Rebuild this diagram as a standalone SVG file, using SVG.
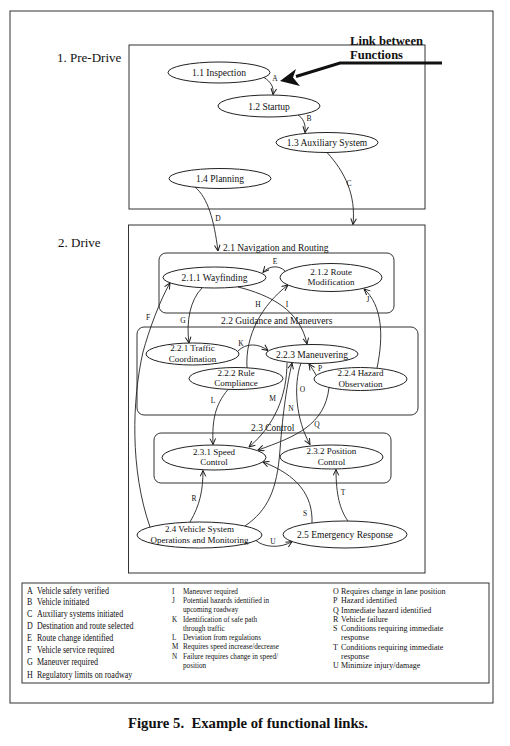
<svg xmlns="http://www.w3.org/2000/svg" width="510" height="746" viewBox="0 0 510 746">
<defs>
<marker id="ah" viewBox="0 0 10 10" refX="9.5" refY="5" markerWidth="7" markerHeight="7" markerUnits="userSpaceOnUse" orient="auto">
<path d="M1,1 L9.5,5 L1,9" fill="none" stroke="#1a1a1a" stroke-width="1.4"/>
</marker>
</defs>
<style>
text{font-family:"Liberation Serif","Times New Roman",serif;fill:#111}
.box{fill:none;stroke:#333;stroke-width:1}
.node ellipse{fill:#fff;stroke:#222;stroke-width:1}
.node text{font-size:9.5px;text-anchor:middle}
.node text.two{font-size:9px}
.gl{font-size:9.5px}
.sec{font-size:13px}
.c path{fill:none;stroke:#222;stroke-width:0.9;marker-end:url(#ah)}
.c text{font-size:7.5px;text-anchor:middle}
.lg1 text{font-size:10px}
.lg2 text{font-size:8px}
.bold{font-weight:bold}
</style>
<rect width="510" height="746" fill="#fff"/>

<g id="frames">
<rect class="box" x="10" y="11" width="483" height="692"/>
<rect class="box" x="129" y="45" width="296" height="164"/>
<rect class="box" x="128.5" y="225" width="296.5" height="348"/>
<rect class="box" x="159" y="253" width="235" height="60" rx="7"/>
<rect class="box" x="137" y="327" width="281" height="88" rx="7"/>
<rect class="box" x="154" y="433" width="237" height="50" rx="7"/>
<rect class="box" x="22" y="583" width="467" height="100"/>
</g>

<g id="titles">
<text class="sec" x="57" y="62">1. Pre-Drive</text>
<text class="sec" x="58" y="247">2. Drive</text>
<text class="gl" x="223" y="251">2.1 Navigation and Routing</text>
<text class="gl" x="221" y="324">2.2 Guidance and Maneuvers</text>
<text class="gl" x="251" y="431">2.3 Control</text>
</g>

<g id="callout">
<text class="bold" x="350" y="44.5" font-size="12" textLength="73" lengthAdjust="spacingAndGlyphs">Link between</text>
<text class="bold" x="350" y="58.5" font-size="12" textLength="53" lengthAdjust="spacingAndGlyphs">Functions</text>
<polyline points="442,63 340,63 296,76.5" fill="none" stroke="#111" stroke-width="3"/>
<polygon points="280,81 296,69 293,77.5 300,86" fill="#111"/>
</g>

<g id="n11" class="node"><ellipse cx="219" cy="72.5" rx="51" ry="10.5"/><text x="219" y="76">1.1 Inspection</text></g>
<g id="n12" class="node"><ellipse cx="269" cy="106" rx="51" ry="11"/><text x="269" y="109.5">1.2 Startup</text></g>
<g id="n13" class="node"><ellipse cx="327" cy="142.5" rx="51" ry="10"/><text x="327" y="146">1.3 Auxiliary System</text></g>
<g id="n14" class="node"><ellipse cx="220" cy="178.5" rx="51" ry="10"/><text x="220" y="182">1.4 Planning</text></g>

<g id="n211" class="node"><ellipse cx="214.5" cy="277.5" rx="51.5" ry="10.5"/><text x="214.5" y="281">2.1.1 Wayfinding</text></g>
<g id="n212" class="node"><ellipse cx="331" cy="277.5" rx="51" ry="14"/><text class="two" x="331" y="274.5">2.1.2 Route</text><text class="two" x="331" y="285">Modification</text></g>
<g id="n221" class="node"><ellipse cx="192.5" cy="354" rx="46.5" ry="11"/><text class="two" x="192.5" y="351">2.2.1 Traffic</text><text class="two" x="192.5" y="361.5">Coordination</text></g>
<g id="n222" class="node"><ellipse cx="236" cy="378.5" rx="47" ry="11"/><text class="two" x="236" y="375.5">2.2.2 Rule</text><text class="two" x="236" y="386">Compliance</text></g>
<g id="n223" class="node"><ellipse cx="312" cy="354" rx="46" ry="9.5"/><text x="312" y="357.5">2.2.3 Maneuvering</text></g>
<g id="n224" class="node"><ellipse cx="360.5" cy="379" rx="46.5" ry="11.5"/><text class="two" x="360.5" y="376">2.2.4 Hazard</text><text class="two" x="360.5" y="386.5">Observation</text></g>
<g id="n231" class="node"><ellipse cx="214" cy="457.5" rx="52" ry="12.5"/><text class="two" x="214" y="454.5">2.3.1 Speed</text><text class="two" x="214" y="465">Control</text></g>
<g id="n232" class="node"><ellipse cx="331.5" cy="457" rx="51.5" ry="12"/><text class="two" x="331.5" y="454">2.3.2 Position</text><text class="two" x="331.5" y="464.5">Control</text></g>
<g id="n24" class="node"><ellipse cx="199.5" cy="535" rx="62.5" ry="13"/><text class="two" x="199.5" y="532">2.4 Vehicle System</text><text class="two" x="199.5" y="542.5">Operations and Monitoring</text></g>
<g id="n25" class="node"><ellipse cx="345" cy="534.5" rx="62" ry="13.5"/><text x="345" y="538">2.5 Emergency Response</text></g>

<g id="connectors" class="c">
<path d="M264,77.5 C271,82 274,87 273,94.5"/><text x="275" y="81">A</text>
<path d="M298,115 C303,118 306,124 305,132.5"/><text x="309" y="121">B</text>
<path d="M327,152.5 C345,172 356,195 353,224.5"/><text x="349" y="186">C</text>
<path d="M195,187 C208,198 214,220 218,251"/><text x="218" y="221">D</text>
<path d="M285,271 C279,265 269,265.5 263,272.5"/><text x="275" y="264">E</text>
<path d="M150,527 C130,470 132,400 143,352 C149,330 160,300 170,283"/><text x="148" y="320">F</text>
<path d="M202,288 C190,300 186,322 189,343"/><text x="183" y="323">G</text>
<path d="M247,368 C245,335 262,305 288,285"/><text x="258" y="307">H</text>
<path d="M238,287 C270,295 300,310 307,344"/><text x="287" y="307">I</text>
<path d="M377,368 C384,335 382,305 364,289"/><text x="368" y="302">J</text>
<path d="M238,351 C246,343 258,343 268,350.5"/><text x="241" y="345.5">K</text>
<path d="M228,389.5 C215,405 212,420 213,444.5"/><text x="213" y="403">L</text>
<path d="M287,362.5 C287,395 275,425 249,447"/><text x="272.5" y="401">M</text>
<path d="M245,526 C268,510 277,490 280,450 C283,410 287,385 292,363"/><text x="291" y="411">N</text>
<path d="M301,363 C293,385 296,420 310,444.5"/><text x="302.5" y="392">O</text>
<path d="M316,375 C314,371 311,367 309,364"/><text x="320" y="371">P</text>
<path d="M329,387.5 C325,425 295,437 258,450"/><text x="317" y="427">Q</text>
<path d="M190,522 C200,505 203,490 203,470.5"/><text x="194" y="501">R</text>
<path d="M312,523 C313,495 297,475 263,462"/><text x="305" y="516">S</text>
<path d="M348,521 C340,510 336,495 336,469.5"/><text x="343" y="495">T</text>
<path d="M256,540.5 C263,547 280,549 292,541.5"/><text x="273" y="543.5">U</text>
</g>

<g id="legend">
<g class="lg1" transform="translate(27,0) scale(0.8,1)">
<text x="0" y="594">A</text><text x="12.5" y="594">Vehicle safety verified</text>
<text x="0" y="605.5">B</text><text x="12.5" y="605.5">Vehicle initiated</text>
<text x="0" y="617">C</text><text x="12.5" y="617">Auxiliary systems initiated</text>
<text x="0" y="629">D</text><text x="12.5" y="629">Destination and route selected</text>
<text x="0" y="641.5">E</text><text x="12.5" y="641.5">Route change identified</text>
<text x="0" y="653">F</text><text x="12.5" y="653">Vehicle service required</text>
<text x="0" y="665.5">G</text><text x="12.5" y="665.5">Maneuver required</text>
<text x="0" y="678">H</text><text x="12.5" y="678">Regulatory limits on roadway</text>
</g>
<g class="lg2" transform="translate(172,0) scale(0.9,1)">
<text x="0" y="594">I</text><text x="12.2" y="594">Maneuver required</text>
<text x="0" y="603.25">J</text><text x="12.2" y="603.25">Potential hazards identified in</text>
<text x="12.2" y="612.5">upcoming roadway</text>
<text x="0" y="621.75">K</text><text x="12.2" y="621.75">Identification of safe path</text>
<text x="12.2" y="631">through traffic</text>
<text x="0" y="640.25">L</text><text x="12.2" y="640.25">Deviation from regulations</text>
<text x="0" y="649.5">M</text><text x="12.2" y="649.5">Requires speed increase/decrease</text>
<text x="0" y="658.75">N</text><text x="12.2" y="658.75">Failure requires change in speed/</text>
<text x="12.2" y="668">position</text>
</g>
<g class="lg2" transform="translate(333,0)">
<text x="0" y="594">O</text><text x="8" y="594">Requires change in lane position</text>
<text x="0" y="603.25">P</text><text x="8" y="603.25">Hazard identified</text>
<text x="0" y="612.5">Q</text><text x="8" y="612.5">Immediate hazard identified</text>
<text x="0" y="621.75">R</text><text x="8" y="621.75">Vehicle failure</text>
<text x="0" y="631">S</text><text x="8" y="631">Conditions requiring immediate</text>
<text x="8" y="640.25">response</text>
<text x="0" y="649.5">T</text><text x="8" y="649.5">Conditions requiring immediate</text>
<text x="8" y="658.75">response</text>
<text x="0" y="668">U</text><text x="8" y="668">Minimize injury/damage</text>
</g>
</g>

<text class="bold" x="128" y="728" font-size="14" textLength="240" lengthAdjust="spacingAndGlyphs" style="white-space:pre">Figure 5.  Example of functional links.</text>
</svg>
